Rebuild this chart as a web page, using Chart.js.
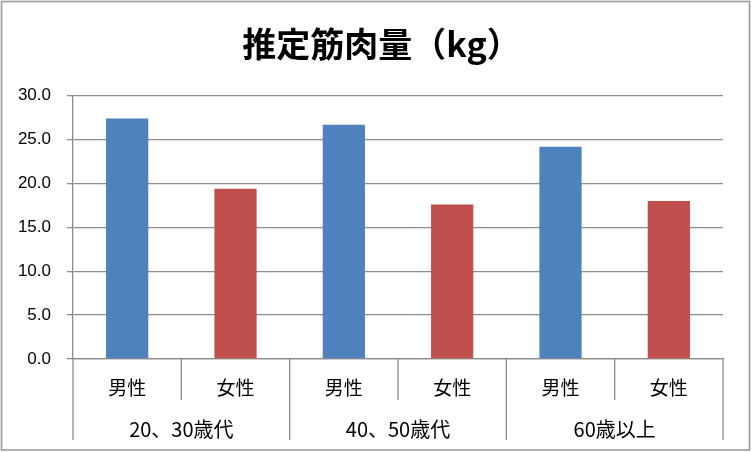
<!DOCTYPE html>
<html>
<head>
<meta charset="utf-8">
<script src="https://cdn.jsdelivr.net/npm/chart.js@4/dist/chart.umd.min.js"></script>
<style>
html,body{margin:0;padding:0;background:#fff;}
#wrap{width:753px;height:452px;}
</style>
</head>
<body>
<div id="wrap"><canvas id="c" width="753" height="452"></canvas></div>
<script>
const title = '推定筋肉量（kg）';
const groups = ['20、30歳代', '40、50歳代', '60歳以上'];
const sexes = ['男性', '女性'];
const values = [27.4, 19.4, 26.7, 17.6, 24.2, 18.0];
const yTicks = [0, 5, 10, 15, 20, 25, 30];

const categories = groups.flatMap(() => sexes);
const sexColors = {'男性': '#4f81bd', '女性': '#c0504d'};

const INNER_SEP = 41;   // length of separators between sexes
const GROUP_SEP = 81;   // length of separators between age groups

const frame = {
  id: 'frame',
  beforeDraw(chart) {
    const ctx = chart.ctx;
    ctx.save();
    ctx.fillStyle = '#fff';
    ctx.fillRect(0, 0, chart.width, chart.height);
    ctx.strokeStyle = '#9a9a9a';
    ctx.lineWidth = 1.6;
    ctx.strokeRect(1.5, 1.5, chart.width - 5, chart.height - 3.5);
    ctx.restore();
  }
};

const separators = {
  id: 'separators',
  afterDraw(chart) {
    const x = chart.scales.x;
    const n = categories.length;
    const per = sexes.length;
    const ctx = chart.ctx;
    ctx.save();
    ctx.strokeStyle = '#8c8c8c';
    ctx.lineWidth = 1.3;
    for (let i = 0; i <= n; i++) {
      let px;
      if (i === 0) px = x.left;
      else if (i === n) px = x.right;
      else px = (x.getPixelForValue(i - 1) + x.getPixelForValue(i)) / 2;
      const len = (i % per === 0) ? GROUP_SEP : INNER_SEP;
      ctx.beginPath();
      ctx.moveTo(px, x.top);
      ctx.lineTo(px, x.top + len);
      ctx.stroke();
    }
    ctx.restore();
  }
};

new Chart(document.getElementById('c'), {
  type: 'bar',
  data: {
    labels: categories,
    datasets: [{
      data: values,
      backgroundColor: categories.map(s => sexColors[s]),
      borderWidth: 0,
      barPercentage: 0.39,
      categoryPercentage: 1
    }]
  },
  options: {
    responsive: false,
    animation: false,
    devicePixelRatio: 1,
    layout: {padding: {left: 10, right: 0, top: 0, bottom: 11}},
    plugins: {
      legend: {display: false},
      tooltip: {enabled: false},
      title: {
        display: true,
        text: title,
        color: '#000',
        font: {family: '"Noto Sans CJK JP"', size: 34, weight: 'bold'},
        padding: {top: 24, bottom: 31}
      }
    },
    scales: {
      y: {
        min: 0, max: 30,
        afterBuildTicks(s) { s.ticks = yTicks.map(v => ({value: v})); },
        afterFit(s) { s.width = 63; },
        ticks: {
          color: '#000',
          font: {family: '"Liberation Sans"', size: 17},
          padding: 16,
          callback: v => Number(v).toFixed(1)
        },
        grid: {color: '#8c8c8c', lineWidth: 1.3, tickLength: 6, drawTicks: true},
        border: {color: '#8c8c8c', width: 1.3}
      },
      yr: {
        position: 'right',
        min: 0, max: 30,
        afterFit(s) { s.width = 30; },
        ticks: {display: false},
        grid: {display: false, drawTicks: false},
        border: {display: false}
      },
      x: {
        type: 'category',
        offset: true,
        grid: {display: false, drawTicks: false},
        border: {color: '#8c8c8c', width: 1.3},
        ticks: {
          color: '#000',
          font: {family: '"Noto Sans CJK JP"', size: 19},
          padding: 17.6,
          maxRotation: 0
        }
      },
      xg: {
        type: 'category',
        position: 'bottom',
        labels: groups,
        offset: true,
        grid: {display: false, drawTicks: false},
        border: {display: false},
        ticks: {
          color: '#000',
          font: {family: '"Noto Sans CJK JP"', size: 20},
          padding: 0,
          maxRotation: 0
        }
      }
    }
  },
  plugins: [frame, separators]
});
</script>
</body>
</html>
